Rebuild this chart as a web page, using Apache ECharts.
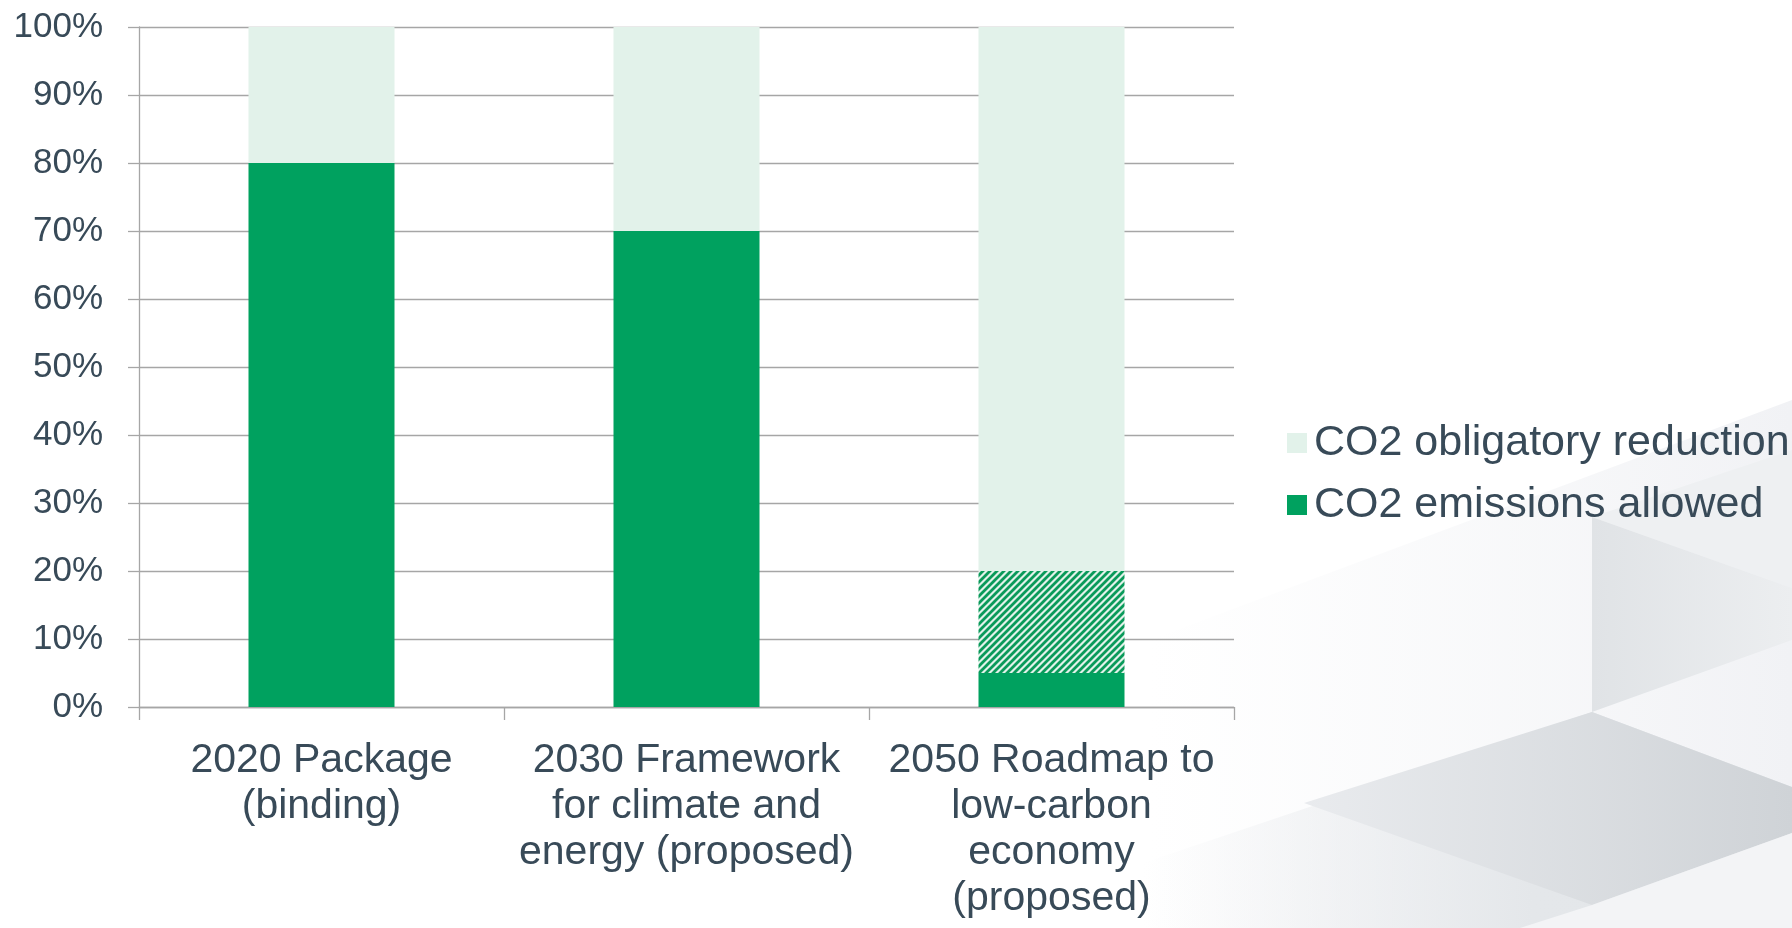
<!DOCTYPE html>
<html>
<head>
<meta charset="utf-8">
<script src="https://cdn.jsdelivr.net/npm/echarts@6/dist/echarts.min.js"></script>
<style>
html,body{margin:0;padding:0;background:#ffffff;}
#chart{width:1792px;height:928px;}
</style>
</head>
<body>
<div id="chart"></div>
<script>
const categories = ['2020 Package\n(binding)', '2030 Framework\nfor climate and\nenergy (proposed)', '2050 Roadmap to\nlow-carbon\neconomy\n(proposed)'];
const emissionsAllowed = [80, 70, 5];
const emissionsRange = [0, 0, 15];
const obligatoryReduction = [20, 30, 80];
const yTicks = [0, 10, 20, 30, 40, 50, 60, 70, 80, 90, 100];

const GREEN = '#00a15f';
const LIGHT = '#e2f2ea';
const TEXT = '#384a58';
const GRID = '#a6a6a6';
const FONT = '"Liberation Sans", Arial, sans-serif';

// hatch pattern
const pc = document.createElement('canvas');
pc.width = 7; pc.height = 7;
const px = pc.getContext('2d');
px.fillStyle = LIGHT; px.fillRect(0, 0, 7, 7);
px.strokeStyle = '#0a9a5a'; px.lineWidth = 2.8;
px.beginPath();
px.moveTo(-1, 8); px.lineTo(8, -1);
px.moveTo(-1, 1); px.lineTo(1, -1);
px.moveTo(6, 8); px.lineTo(8, 6);
px.stroke();

const chart = echarts.init(document.getElementById('chart'), null, {renderer: 'canvas'});
const LG = echarts.graphic.LinearGradient;

chart.setOption({
  backgroundColor: '#ffffff',
  animation: false,
  textStyle: {fontFamily: FONT},
  graphic: {
    elements: [
      {type: 'polygon', z: -10, silent: true, shape: {points: [[1150, 640], [1792, 400], [1792, 928], [1150, 928]]},
        style: {fill: new LG(0, 0, 1, 0, [{offset: 0, color: 'rgba(244,245,247,0)'}, {offset: 1, color: 'rgba(241,242,245,1)'}])}},
      {type: 'polygon', z: -9, silent: true, shape: {points: [[1592, 517], [1792, 450], [1792, 588]]},
        style: {fill: '#eef0f2'}},
      {type: 'polygon', z: -9, silent: true, shape: {points: [[1592, 517], [1792, 588], [1792, 640], [1592, 712]]},
        style: {fill: new LG(0, 0, 1, 0, [{offset: 0, color: '#e0e3e6'}, {offset: 1, color: '#eceef0'}])}},
      {type: 'polygon', z: -9, silent: true, shape: {points: [[1143, 863], [1592, 712], [1792, 787], [1792, 928], [1143, 928]]},
        style: {fill: new LG(0, 0, 1, 0, [{offset: 0, color: 'rgba(232,234,237,0)'}, {offset: 0.6, color: 'rgba(228,231,234,1)'}, {offset: 1, color: '#e3e6e9'}])}},
      {type: 'polygon', z: -8, silent: true, shape: {points: [[1592, 712], [1792, 787], [1792, 833], [1592, 905], [1304, 803]]},
        style: {fill: new LG(0, 0, 1, 0, [{offset: 0, color: '#e9ebee'}, {offset: 1, color: '#cfd3d7'}])}},
      {type: 'polygon', z: -8, silent: true, shape: {points: [[1592, 905], [1792, 833], [1792, 928], [1520, 928]]},
        style: {fill: '#f3f4f6'}}
    ]
  },
  legend: {
    orient: 'vertical',
    left: 1282,
    top: 413,
    itemWidth: 20,
    itemHeight: 20,
    itemGap: 12,
    icon: 'rect',
    data: ['CO2 obligatory reduction', 'CO2 emissions allowed'],
    textStyle: {color: TEXT, fontSize: 43, lineHeight: 50, fontFamily: FONT, padding: [0, 0, 0, 2]}
  },
  grid: {left: 139, right: 558, top: 27, bottom: 221, containLabel: false},
  xAxis: {
    type: 'category',
    data: categories,
    axisLine: {lineStyle: {color: GRID, width: 1.3}},
    axisTick: {show: true, length: 13, lineStyle: {color: GRID, width: 1.3}},
    axisLabel: {interval: 0, color: TEXT, fontSize: 41, lineHeight: 46, margin: 31, fontFamily: FONT}
  },
  yAxis: {
    type: 'value',
    min: yTicks[0],
    max: yTicks[yTicks.length - 1],
    interval: yTicks[1] - yTicks[0],
    axisLine: {show: true, lineStyle: {color: GRID, width: 1.3}},
    axisTick: {show: true, length: 11, lineStyle: {color: GRID, width: 1.3}},
    splitLine: {show: true, lineStyle: {color: GRID, width: 1.3}},
    axisLabel: {formatter: '{value}%', color: TEXT, fontSize: 35, margin: 36, fontFamily: FONT}
  },
  series: [
    {name: 'CO2 emissions allowed', type: 'bar', stack: 'total', barWidth: '40%', data: emissionsAllowed,
      itemStyle: {color: GREEN}},
    {name: 'CO2 emissions allowed (range)', type: 'bar', stack: 'total', barWidth: '40%', data: emissionsRange,
      itemStyle: {color: {image: pc, repeat: 'repeat'}}},
    {name: 'CO2 obligatory reduction', type: 'bar', stack: 'total', barWidth: '40%', data: obligatoryReduction,
      itemStyle: {color: LIGHT}}
  ]
});
</script>
</body>
</html>
